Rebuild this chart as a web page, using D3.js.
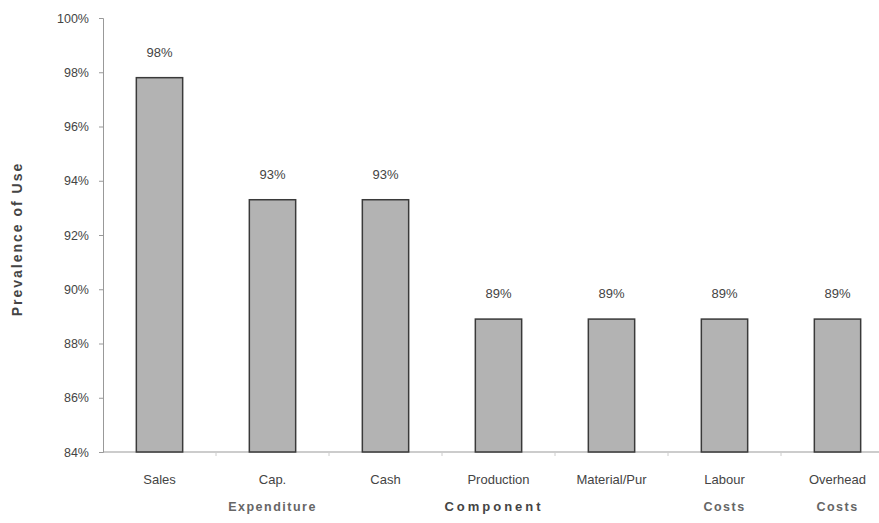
<!DOCTYPE html>
<html>
<head>
<meta charset="utf-8">
<script src="https://cdn.jsdelivr.net/npm/d3@7"></script>
<style>
  body { margin: 0; background: #fff; }
  text { font-family: "Liberation Sans", Arial, sans-serif; fill: #444; }
</style>
</head>
<body>
<script>
var categories = [["Sales"], ["Cap.", "Expenditure"], ["Cash"], ["Production"], ["Material/Pur"], ["Labour", "Costs"], ["Overhead", "Costs"]];
var values = [97.8, 93.3, 93.3, 88.9, 88.9, 88.9, 88.9];
var valueLabels = ["98%", "93%", "93%", "89%", "89%", "89%", "89%"];
var yTicks = [84, 86, 88, 90, 92, 94, 96, 98, 100];

var width = 879, height = 523;
var margin = { top: 18, right: -15, bottom: 71, left: 103 };

var svg = d3.select("body").append("svg")
  .attr("width", width)
  .attr("height", height);

var x = d3.scaleBand()
  .domain(d3.range(categories.length))
  .range([margin.left, width - margin.right])
  .paddingInner(0.59)
  .paddingOuter(0.295);

var y = d3.scaleLinear()
  .domain([84, 100])
  .range([height - margin.bottom, margin.top]);

// y axis
var yAxis = svg.append("g")
  .attr("transform", "translate(" + margin.left + ",0)")
  .call(d3.axisLeft(y).tickValues(yTicks).tickSize(4).tickPadding(10)
    .tickFormat(function (d) { return d + "%"; }));
yAxis.select(".domain").attr("stroke", "#999");
yAxis.selectAll(".tick line").attr("stroke", "#999");
yAxis.selectAll(".tick text").style("font-size", "12.5px").attr("fill", "#555");

// x baseline
var step = x.step();
svg.append("line")
  .attr("x1", margin.left).attr("x2", width)
  .attr("y1", y(84)).attr("y2", y(84))
  .attr("stroke", "#999");
svg.selectAll(".xtick")
  .data(d3.range(categories.length))
  .enter().append("line")
  .attr("class", "xtick")
  .attr("x1", function (d) { return margin.left + (d + 1) * step; })
  .attr("x2", function (d) { return margin.left + (d + 1) * step; })
  .attr("y1", y(84)).attr("y2", y(84) + 4)
  .attr("stroke", "#ccc");

// bars
svg.selectAll(".bar")
  .data(values)
  .enter().append("rect")
  .attr("class", "bar")
  .attr("x", function (d, i) { return x(i); })
  .attr("y", function (d) { return y(d); })
  .attr("width", x.bandwidth())
  .attr("height", function (d) { return y(84) - y(d); })
  .attr("fill", "#b3b3b3")
  .attr("stroke", "#3a3a3a")
  .attr("stroke-width", 1.5);

// value labels
svg.selectAll(".val")
  .data(values)
  .enter().append("text")
  .attr("class", "val")
  .attr("x", function (d, i) { return x(i) + x.bandwidth() / 2; })
  .attr("y", function (d) { return y(d) - 21; })
  .attr("text-anchor", "middle")
  .style("font-size", "13px")
  .text(function (d, i) { return valueLabels[i]; });

// category labels
var cat = svg.selectAll(".cat")
  .data(categories)
  .enter().append("text")
  .attr("class", "cat")
  .attr("text-anchor", "middle")
  .attr("x", function (d, i) { return x(i) + x.bandwidth() / 2; })
  .attr("y", y(84) + 32)
  .style("font-size", "13px");
cat.selectAll("tspan")
  .data(function (d) { return d; })
  .enter().append("tspan")
  .attr("x", function () { return this.parentNode.getAttribute("x"); })
  .attr("dy", function (d, i) { return i === 0 ? 0 : 27; })
  .style("font-size", function (d, i) { return i === 0 ? "13px" : "12.5px"; })
  .style("font-weight", function (d, i) { return i === 0 ? "normal" : "bold"; })
  .style("letter-spacing", function (d, i) { return i === 0 ? "0px" : "1.5px"; })
  .attr("fill", function (d, i) { return i === 0 ? "#444" : "#666"; })
  .text(function (d) { return d; });

// axis titles
svg.append("text")
  .attr("x", 494)
  .attr("y", y(84) + 59)
  .attr("text-anchor", "middle")
  .style("font-size", "13px")
  .style("font-weight", "bold")
  .style("letter-spacing", "3px")
  .attr("fill", "#555")
  .text("Component");

svg.append("text")
  .attr("transform", "translate(22," + (y(92) + 4) + ") rotate(-90)")
  .attr("text-anchor", "middle")
  .style("font-size", "14px")
  .style("font-weight", "bold")
  .style("letter-spacing", "2px")
  .attr("fill", "#555")
  .text("Prevalence of Use");
</script>
</body>
</html>
